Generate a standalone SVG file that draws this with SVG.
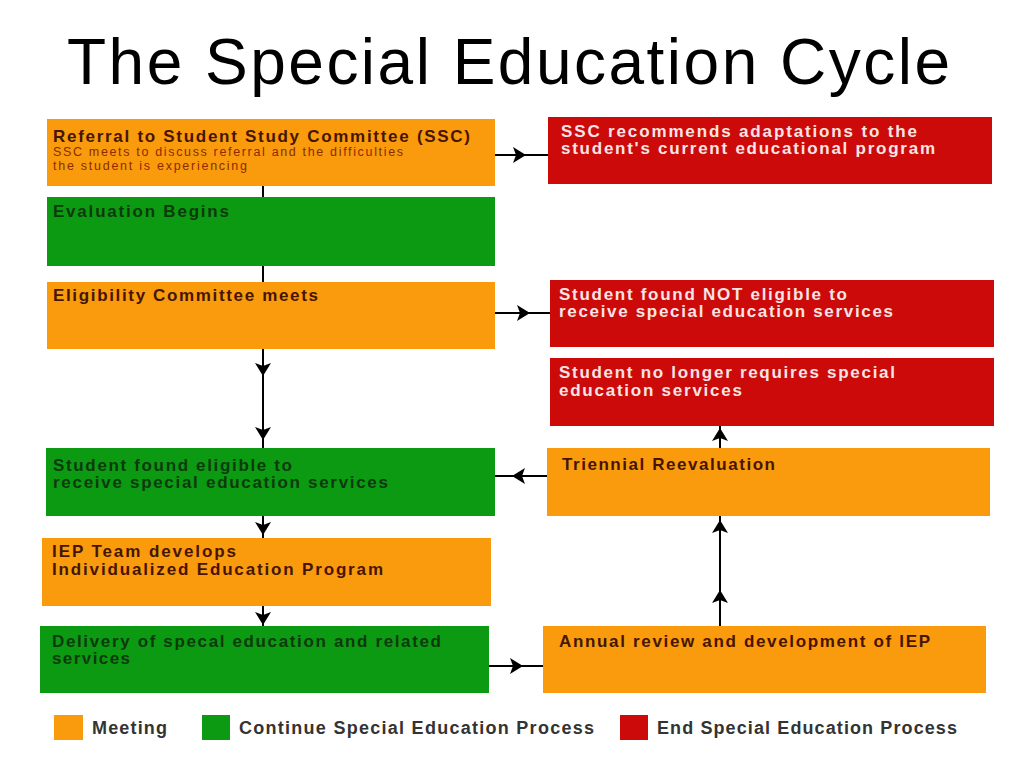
<svg xmlns="http://www.w3.org/2000/svg" width="1024" height="768" viewBox="0 0 1024 768">
<defs>
<style>
.title{font-family:"Liberation Sans",Arial,sans-serif;font-size:64px;fill:#000}
.t{font-family:"Liberation Sans",Arial,sans-serif;font-size:17px;font-weight:bold}
.sub{font-family:"Liberation Sans",Arial,sans-serif;font-size:12.5px;fill:#8a2c00}
.leg{font-family:"Liberation Sans",Arial,sans-serif;font-size:18px;font-weight:bold;fill:#333}
.mt{fill:#461500}
.ct{fill:#0d3a0d}
.et{fill:#f8e4e4}
.meet{fill:#f99b0c}
.cont{fill:#0b9a12}
.end{fill:#cc0a0a}
.conn{fill:none;stroke:#000;stroke-width:2;marker-mid:url(#ah)}
</style>
<marker id="ah" markerUnits="userSpaceOnUse" markerWidth="14" markerHeight="16" refX="13" refY="8" orient="auto" viewBox="0 0 14 16">
<path d="M0,0 L13,8 L0,16 L3,8 z" fill="#000"/>
</marker>
</defs>
<rect width="1024" height="768" fill="#fff"/>
<text class="title" x="67" y="84" textLength="883" lengthAdjust="spacing">The Special Education Cycle</text>

<g id="connectors">
<polyline class="conn" points="495,155 526,155 548,155"/>
<polyline class="conn" points="495,313 530,313 550,313"/>
<line x1="263" y1="186" x2="263" y2="197" stroke="#000" stroke-width="2"/>
<line x1="263" y1="266" x2="263" y2="282" stroke="#000" stroke-width="2"/>
<polyline class="conn" points="263,349 263,376 263,440 263,448"/>
<polyline class="conn" points="263,516 263,535 263,538"/>
<polyline class="conn" points="263,606 263,625 263,626"/>
<polyline class="conn" points="489,666 523,666 543,666"/>
<polyline class="conn" points="547,476 512,476 495,476"/>
<polyline class="conn" points="720,626 720,590 720,520 720,516"/>
<polyline class="conn" points="720,448 720,428 720,426"/>
</g>

<g id="referral">
<rect class="meet" x="47" y="119" width="448" height="67"/>
<text class="t mt" x="53" y="142" textLength="417" lengthAdjust="spacing">Referral to Student Study Committee (SSC)</text>
<text class="sub" x="53" y="156" textLength="350" lengthAdjust="spacing">SSC meets to discuss referral and the difficulties</text>
<text class="sub" x="53" y="170" textLength="194" lengthAdjust="spacing">the student is experiencing</text>
</g>
<g id="evaluation">
<rect class="cont" x="47" y="197" width="448" height="69"/>
<text class="t ct" x="53" y="217" textLength="176" lengthAdjust="spacing">Evaluation Begins</text>
</g>
<g id="eligibility">
<rect class="meet" x="47" y="282" width="448" height="67"/>
<text class="t mt" x="53" y="301" textLength="265" lengthAdjust="spacing">Eligibility Committee meets</text>
</g>
<g id="ssc-recommends">
<rect class="end" x="548" y="117" width="444" height="67"/>
<text class="t et" x="561" y="137" textLength="356" lengthAdjust="spacing">SSC recommends adaptations to the</text>
<text class="t et" x="561" y="154" textLength="374" lengthAdjust="spacing">student's current educational program</text>
</g>
<g id="not-eligible">
<rect class="end" x="550" y="280" width="444" height="67"/>
<text class="t et" x="559" y="300" textLength="288" lengthAdjust="spacing">Student found NOT eligible to</text>
<text class="t et" x="559" y="317" textLength="334" lengthAdjust="spacing">receive special education services</text>
</g>
<g id="no-longer">
<rect class="end" x="550" y="358" width="444" height="68"/>
<text class="t et" x="559" y="378" textLength="336" lengthAdjust="spacing">Student no longer requires special</text>
<text class="t et" x="559" y="396" textLength="183" lengthAdjust="spacing">education services</text>
</g>
<g id="eligible">
<rect class="cont" x="46" y="448" width="449" height="68"/>
<text class="t ct" x="53" y="471" textLength="239" lengthAdjust="spacing">Student found eligible to</text>
<text class="t ct" x="53" y="488" textLength="335" lengthAdjust="spacing">receive special education services</text>
</g>
<g id="iep-team">
<rect class="meet" x="42" y="538" width="449" height="68"/>
<text class="t mt" x="52" y="557" textLength="184" lengthAdjust="spacing">IEP Team develops</text>
<text class="t mt" x="52" y="575" textLength="331" lengthAdjust="spacing">Individualized Education Program</text>
</g>
<g id="delivery">
<rect class="cont" x="40" y="626" width="449" height="67"/>
<text class="t ct" x="52" y="647" textLength="389" lengthAdjust="spacing">Delivery of specal education and related</text>
<text class="t ct" x="52" y="664" textLength="78" lengthAdjust="spacing">services</text>
</g>
<g id="triennial">
<rect class="meet" x="547" y="448" width="443" height="68"/>
<text class="t mt" x="562" y="470" textLength="213" lengthAdjust="spacing">Triennial Reevaluation</text>
</g>
<g id="annual">
<rect class="meet" x="543" y="626" width="443" height="67"/>
<text class="t mt" x="559" y="647" textLength="371" lengthAdjust="spacing">Annual review and development of IEP</text>
</g>

<g id="legend">
<rect class="meet" x="54" y="715" width="29" height="25"/>
<text class="leg" x="92" y="734" textLength="75" lengthAdjust="spacing">Meeting</text>
<rect class="cont" x="202" y="715" width="28" height="25"/>
<text class="leg" x="239" y="734" textLength="355" lengthAdjust="spacing">Continue Special Education Process</text>
<rect class="end" x="620" y="715" width="28" height="25"/>
<text class="leg" x="657" y="734" textLength="300" lengthAdjust="spacing">End Special Education Process</text>
</g>
</svg>
